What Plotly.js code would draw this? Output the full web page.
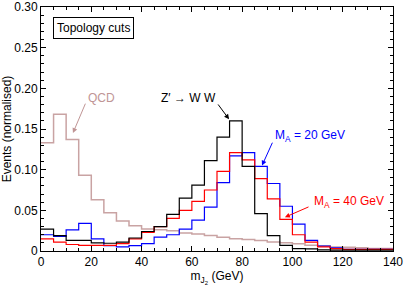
<!DOCTYPE html>
<html><head><meta charset="utf-8">
<script src="https://cdn.plot.ly/plotly-3.0.1.min.js"></script>
<style>html,body{margin:0;padding:0;background:#fff}#c{width:404px;height:286px}</style>
</head><body><div id="c"></div>
<script>
var binEdges = [0,5,10,15,20,25,30,35,40,45,50,55,60,65,70,75,80,85,90,95,100,105,110,115,120,125,130,135,140];
var qcd = [0.133,0.168,0.137,0.093,0.063,0.047,0.037,0.031,0.027,0.026,0.025,0.022,0.021,0.019,0.017,0.015,0.014,0.013,0.011,0.010,0.009,0.007,0.0065,0.005,0.0045,0.004,0.003,0.003];
var zww = [0.027,0.019,0.013,0.013,0.010,0.0095,0.011,0.016,0.024,0.030,0.045,0.065,0.081,0.111,0.140,0.160,0.104,0.046,0.019,0.007,0.003,0.0025,0.0015,0.001,0.001,0.001,0.001,0.001];
var ma40 = [0.015,0.011,0.008,0.007,0.007,0.007,0.009,0.015,0.023,0.030,0.040,0.050,0.061,0.075,0.098,0.121,0.112,0.089,0.064,0.039,0.020,0.011,0.005,0.003,0.002,0.002,0.002,0.002];
var ma20 = [0.020,0.018,0.026,0.034,0.015,0.0065,0.005,0.0065,0.009,0.017,0.020,0.027,0.038,0.054,0.084,0.117,0.121,0.104,0.083,0.055,0.033,0.013,0.006,0.004,0.002,0.002,0.002,0.002];
var yTickVals = [0,0.05,0.10,0.15,0.20,0.25,0.30];
var yTickText = ["0","0.05","0.10","0.15","0.20","0.25","0.30"];
var xTickVals = [0,20,40,60,80,100,120,140];

function step(vals){ return vals.concat([vals[vals.length-1]]); }
function tr(vals,color,w){
  return {x:binEdges, y:step(vals), type:'scatter', mode:'lines', line:{shape:'hv', color:color, width:w}, hoverinfo:'skip', showlegend:false};
}
var data = [tr(qcd,'#c9a3a3',1.5), tr(ma20,'#0000ff',1.2), tr(ma40,'#ff0000',1.2), tr(zww,'#000000',1.2)];

var f = {family:'Liberation Sans, Arial, sans-serif', size:12, color:'#000'};
function arrow(x,y,ax,ay,color){
  return {x:x,y:y,ax:ax,ay:ay,xref:'x',yref:'y',axref:'x',ayref:'y',text:'',showarrow:true,arrowhead:2,arrowsize:1,arrowwidth:1,arrowcolor:color};
}
function label(x,y,text,color,anchor){
  return {x:x,y:y,xref:'x',yref:'y',text:text,showarrow:false,xanchor:anchor||'left',yanchor:'middle',font:{family:f.family,size:12,color:color}};
}
var layout = {
  width:404, height:286,
  margin:{l:41,r:11,t:7,b:35},
  paper_bgcolor:'#fff', plot_bgcolor:'#fff',
  font:f,
  showlegend:false,
  xaxis:{range:[0,140.001], tickvals:xTickVals, ticks:'inside', ticklen:5, tickwidth:1, tickcolor:'#000',
    minor:{dtick:5, ticks:'inside', ticklen:3, tickcolor:'#000'},
    showline:true, linecolor:'#000', linewidth:1, mirror:'allticks', showgrid:false, zeroline:false,
    ticklabeloverflow:'allow',
    tickfont:{family:f.family,size:12},
    title:{text:'m<sub>J<sub>2</sub></sub> (GeV)', font:{family:f.family,size:12}, standoff:2}},
  yaxis:{range:[0,0.30001], tickvals:yTickVals, ticktext:yTickText, ticks:'inside', ticklen:5, tickwidth:1, tickcolor:'#000',
    minor:{dtick:0.01, ticks:'inside', ticklen:3, tickcolor:'#000'},
    showline:true, linecolor:'#000', linewidth:1, mirror:'allticks', showgrid:false, zeroline:false,
    ticklabeloverflow:'allow',
    tickfont:{family:f.family,size:12},
    title:{text:'Events (normalised)', font:{family:f.family,size:12}, standoff:4}},
  annotations:[
    {xref:'paper',yref:'paper',x:0.033,y:0.959,xanchor:'left',yanchor:'top',text:'Topology cuts',showarrow:false,
     bordercolor:'#000',borderwidth:1,borderpad:3,bgcolor:'#fff',font:{family:f.family,size:12,color:'#000'}},
    label(23.9,0.188,'QCD','#c09595','center'),
    arrow(12.7,0.145,17.9,0.183,'#c09595'),
    label(58.5,0.188,'Z′ → W W','#000','center'),
    arrow(74.8,0.162,70,0.182,'#000'),
    label(92.3,0.1415,'M<sub>A</sub> = 20 GeV','#0000ff','left'),
    arrow(87.9,0.105,92.3,0.135,'#0000ff'),
    label(107.8,0.06,'M<sub>A</sub> = 40 GeV','#ff0000','left'),
    arrow(97,0.0415,107,0.055,'#ff0000')
  ]
};
Plotly.newPlot('c', data, layout, {staticPlot:true, displayModeBar:false});
</script>
</body></html>
